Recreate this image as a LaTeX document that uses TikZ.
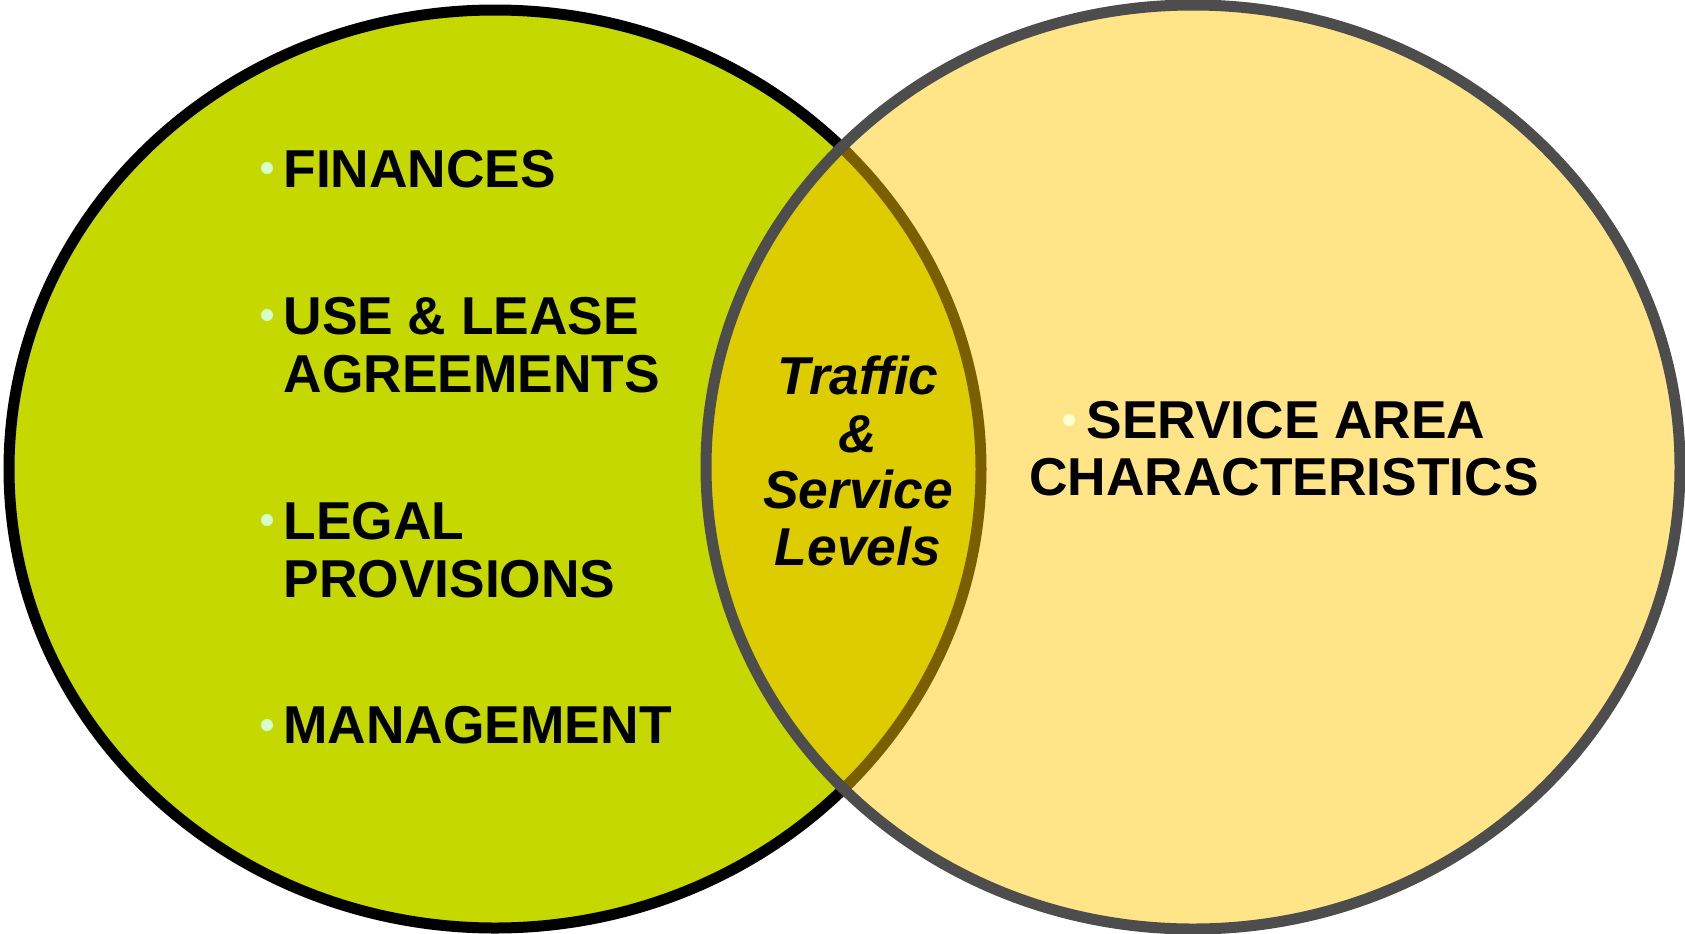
\documentclass[tikz,border=0pt]{standalone}
\usepackage{fontspec}
\setmainfont{Liberation Sans}

\definecolor{leftfill}{RGB}{197,216,0}
\definecolor{rightfill}{RGB}{255,228,136}
\definecolor{lensfill}{RGB}{221,204,0}
\definecolor{lensedge}{RGB}{122,94,0}
\definecolor{rightedge}{RGB}{77,77,77}
\definecolor{dotleft}{RGB}{213,255,204}
\definecolor{dotright}{RGB}{255,255,208}

\tikzset{every picture/.style={line width=0.75pt}}
\tikzset{
  itemtext/.style={font=\fontsize{40}{43.5}\selectfont\bfseries, inner sep=0pt, anchor=base west},
  areatext/.style={font=\fontsize{40}{43.5}\selectfont\bfseries, inner sep=0pt, anchor=base},
  lenstext/.style={font=\fontsize{40}{43}\selectfont\bfseries\itshape, inner sep=0pt, anchor=base}
}

\begin{document}
\begin{tikzpicture}[x=0.75pt,y=0.75pt,yscale=-1,xscale=1]
\useasboundingbox (0,0) rectangle (1685,933);

%Shape: Ellipse [left]
\draw [line width=8.25, fill=leftfill] (495,469) ellipse [x radius=486, y radius=459];
%Shape: Ellipse [right, fill only]
\fill [rightfill] (1193,467) ellipse [x radius=487, y radius=462];
%Shape: Lens [overlap of both ellipses]
\begin{scope}
\clip (1193,467) ellipse [x radius=487, y radius=462];
\fill [lensfill] (495,469) ellipse [x radius=486, y radius=459];
\draw [line width=8.25, lensedge] (495,469) ellipse [x radius=486, y radius=459];
\end{scope}
%Shape: Ellipse [right, outline]
\draw [line width=8.25, rightedge] (1193,467) ellipse [x radius=487, y radius=462];

%Shape: Circle [bullets]
\fill [dotleft] (267,168) circle (6);
\fill [dotleft] (267,315) circle (6);
\fill [dotleft] (267,520) circle (6);
\fill [dotleft] (267,725) circle (6);
\fill [dotright] (1069,420) circle (6);

% Text Node
\node (fin) [itemtext] at (283,187) {FINANCES};
% Text Node
\node (use) [itemtext] at (283,334) {USE \& LEASE};
\node (agr) [itemtext] at (283,392) {AGREEMENTS};
% Text Node
\node (leg) [itemtext] at (283,539) {LEGAL};
\node (prov) [itemtext] at (283,597) {PROVISIONS};
% Text Node
\node (mgmt) [itemtext] at (283,743) {MANAGEMENT};

% Text Node
\node (traf) [lenstext] at (858,394) {Traffic};
\node (amp) [lenstext] at (858,452) {\&};
\node (serv) [lenstext] at (858,508) {Service};
\node (lev) [lenstext] at (858,565) {Levels};

% Text Node
\node (sa) [areatext] at (1286,438) {SERVICE AREA};
\node (chars) [areatext] at (1284,495) {CHARACTERISTICS};

\end{tikzpicture}
\end{document}
